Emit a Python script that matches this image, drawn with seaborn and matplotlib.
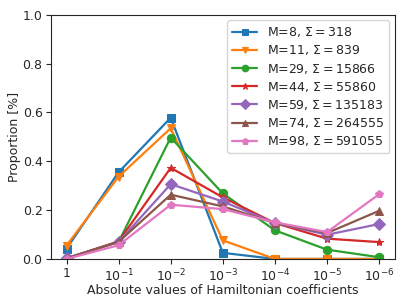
import seaborn as sns
import matplotlib
matplotlib.use('Agg')
import matplotlib.pyplot as plt
import pandas as pd
import numpy as np

# Data
bins = ['1', r'$10^{-1}$', r'$10^{-2}$', r'$10^{-3}$', r'$10^{-4}$', r'$10^{-5}$', r'$10^{-6}$']
labels = [r'M=8, $\Sigma = 318$', r'M=11, $\Sigma = 839$', r'M=29, $\Sigma = 15866$',
          r'M=44, $\Sigma = 55860$', r'M=59, $\Sigma = 135183$', r'M=74, $\Sigma = 264555$',
          r'M=98, $\Sigma = 591055$']
m8 = [0.042, 0.355, 0.578, 0.025, 0.0, 0.0, 0.0]
m11 = [0.055, 0.337, 0.535, 0.076, 0.0, 0.0, 0.0]
m29 = [0.003, 0.070, 0.497, 0.268, 0.117, 0.038, 0.007]
m44 = [0.002, 0.072, 0.373, 0.252, 0.147, 0.083, 0.069]
m59 = [0.003, 0.070, 0.306, 0.235, 0.147, 0.099, 0.143]
m74 = [0.002, 0.070, 0.263, 0.215, 0.147, 0.106, 0.197]
m98 = [0.000, 0.056, 0.222, 0.204, 0.150, 0.110, 0.265]
series = [m8, m11, m29, m44, m59, m74, m98]
markers = ['s', 'v', 'o', '*', 'D', '^', 'p']

sns.set_style('ticks')
plt.rcParams['font.family'] = ['DejaVu Sans']
plt.rcParams['mathtext.fontset'] = 'dejavusans'
fig, ax = plt.subplots(figsize=(4.07, 3.05), dpi=100)
colors = sns.color_palette('tab10')
x = np.arange(len(bins))
for i, (vals, lab) in enumerate(zip(series, labels)):
    sns.lineplot(x=x, y=vals, ax=ax, label=lab, color=colors[i], marker=markers[i],
                 markersize=6, markeredgecolor=colors[i], linewidth=1.6)

ax.set_xticks(x)
ax.set_xticklabels(bins)
ax.set_ylim(0, 1.0)
ax.set_xlim(-0.3, 6.3)
ax.tick_params(labelsize=9, pad=2.5)
ax.set_xlabel('Absolute values of Hamiltonian coefficients', fontsize=9, labelpad=0)
ax.set_ylabel('Proportion [%]', fontsize=9, labelpad=1)
ax.legend(loc='upper right', fontsize=9, handlelength=2, labelspacing=0.33,
          markerscale=0.8, borderaxespad=0.45)
plt.subplots_adjust(left=0.125, right=0.97, top=0.952, bottom=0.151)
plt.savefig('out.png', dpi=100)
